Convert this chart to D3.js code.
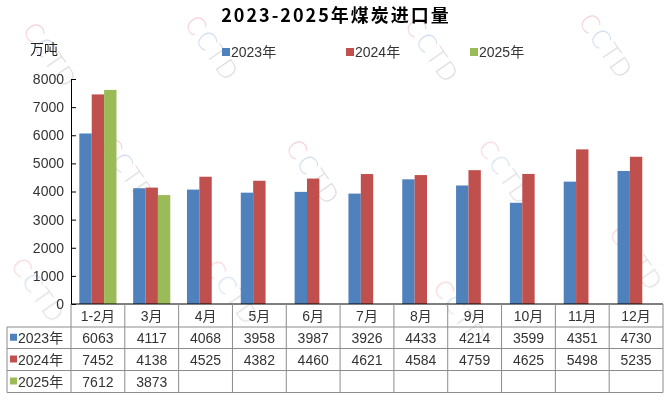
<!DOCTYPE html>
<html>
<head>
<meta charset="utf-8">
<script src="https://cdn.jsdelivr.net/npm/d3@7"></script>
<style>
  body { margin: 0; background: #fff; }
  svg { display: block; font-family: "Liberation Sans", "Noto Sans CJK SC", sans-serif; }
</style>
</head>
<body>
<div id="chart"></div>
<script>
// data
const categories = ["1-2月", "3月", "4月", "5月", "6月", "7月", "8月", "9月", "10月", "11月", "12月"];
const seriesNames = ["2023年", "2024年", "2025年"];
const values2023 = [6063, 4117, 4068, 3958, 3987, 3926, 4433, 4214, 3599, 4351, 4730];
const values2024 = [7452, 4138, 4525, 4382, 4460, 4621, 4584, 4759, 4625, 5498, 5235];
const values2025 = [7612, 3873];
const yTicks = [0, 1000, 2000, 3000, 4000, 5000, 6000, 7000, 8000];
const colors = ["#4F81BD", "#C0504D", "#9BBB59"];

const seriesValues = [values2023, values2024, values2025];

const width = 672, height = 399;
const plotLeft = 71, plotRight = 663, plotTop = 79, plotBottom = 304;
const rowH = [23, 21.5, 22, 22];

const svg = d3.select("#chart").append("svg")
  .attr("width", width)
  .attr("height", height);

// watermark, faint CCTD repeated
const wmSpots = [[50, 55], [212, 48], [432, 50], [606, 46], [128, 170], [313, 172], [505, 172], [38, 290], [232, 292], [460, 312], [636, 258]];
const wmColors = ["#f2b3b9", "#b5c9e6", "#c8c8c8", "#c8c8c8"];
const wm = svg.append("g").attr("opacity", 0.6);
wmSpots.forEach(p => {
  const t = wm.append("text")
    .attr("transform", "translate(" + p[0] + "," + p[1] + ") rotate(55)")
    .attr("text-anchor", "middle")
    .attr("dominant-baseline", "central")
    .style("font-family", "DejaVu Sans")
    .style("font-weight", "200")
    .style("font-size", "25px")
    .style("letter-spacing", "1px");
  "CCTD".split("").forEach((ch, i) => {
    t.append("tspan").attr("fill", wmColors[i]).text(ch);
  });
});

// title
svg.append("text")
  .attr("x", 336)
  .attr("y", 22)
  .attr("text-anchor", "middle")
  .style("font-size", "18px")
  .style("font-weight", "bold")
  .style("letter-spacing", "2px")
  .style("font-family", "\"Noto Sans CJK SC\", sans-serif")
  .text("2023-2025年煤炭进口量");

// unit
svg.append("text")
  .attr("x", 30)
  .attr("y", 54)
  .style("font-size", "14px")
  .style("font-family", "\"Noto Sans CJK SC\", sans-serif")
  .attr("fill", "#222")
  .text("万吨");

// legend
const legend = svg.append("g");
seriesNames.forEach((name, i) => {
  const lx = 222 + i * 124;
  legend.append("rect")
    .attr("x", lx).attr("y", 48)
    .attr("width", 8).attr("height", 8)
    .attr("fill", colors[i]);
  legend.append("text")
    .attr("x", lx + 9).attr("y", 57)
    .style("font-size", "14px")
    .attr("fill", "#333")
    .text(name);
});

// scales
const x = d3.scaleBand().domain(categories).range([plotLeft, plotRight]).padding(0);
const bw = x.bandwidth();
const x1 = d3.scaleBand().domain(seriesNames).range([bw * 0.155, bw * 0.845]).padding(0);
const y = d3.scaleLinear().domain([0, 8000]).range([plotBottom, plotTop]);

// bars
seriesNames.forEach((name, si) => {
  svg.append("g")
    .selectAll("rect")
    .data(seriesValues[si])
    .enter()
    .append("rect")
    .attr("x", (d, i) => x(categories[i]) + x1(name))
    .attr("y", d => y(d))
    .attr("width", x1.bandwidth())
    .attr("height", d => plotBottom - y(d))
    .attr("fill", colors[si]);
});

// y axis
const yAxis = svg.append("g")
  .attr("transform", "translate(" + plotLeft + ",0)")
  .call(d3.axisLeft(y).tickValues(yTicks).tickFormat(d3.format("d"))
    .tickSize(-5).tickSizeOuter(0).tickPadding(7));
yAxis.select(".domain").attr("stroke", "#000");
yAxis.selectAll(".tick line").attr("stroke", "#000");
yAxis.selectAll(".tick text")
  .style("font-size", "14px")
  .style("font-family", "\"Liberation Sans\", sans-serif")
  .attr("fill", "#333");

// data table
const table = svg.append("g");
const rowY = [plotBottom];
rowH.forEach(h => rowY.push(rowY[rowY.length - 1] + h));
const tableLeft = 7;
const grid = "#8c8c8c";

// horizontal lines
rowY.forEach((ry, i) => {
  table.append("line")
    .attr("x1", i === 0 ? plotLeft : tableLeft).attr("x2", plotRight)
    .attr("y1", ry).attr("y2", ry)
    .attr("stroke", i === 0 ? "#000" : grid);
});
// vertical lines
const colEdges = categories.map(c => x(c)).concat([plotRight]);
colEdges.forEach(cx => {
  table.append("line")
    .attr("x1", cx).attr("x2", cx)
    .attr("y1", plotBottom).attr("y2", rowY[4])
    .attr("stroke", grid);
});
table.append("line")
  .attr("x1", tableLeft).attr("x2", tableLeft)
  .attr("y1", rowY[1]).attr("y2", rowY[4])
  .attr("stroke", grid);

// header
table.selectAll(".cat")
  .data(categories)
  .enter()
  .append("text")
  .attr("x", d => x(d) + bw / 2)
  .attr("y", (rowY[0] + rowY[1]) / 2 + 5)
  .attr("text-anchor", "middle")
  .style("font-size", "14px")
  .attr("fill", "#333")
  .text(d => d);

// rows
seriesNames.forEach((name, si) => {
  const cy = (rowY[si + 1] + rowY[si + 2]) / 2;
  table.append("rect")
    .attr("x", 10).attr("y", cy - 4)
    .attr("width", 7).attr("height", 7)
    .attr("fill", colors[si]);
  table.append("text")
    .attr("x", 18).attr("y", cy + 5)
    .style("font-size", "14px")
    .attr("fill", "#333")
    .text(name);
  table.append("g")
    .selectAll("text")
    .data(seriesValues[si])
    .enter()
    .append("text")
    .attr("x", (d, i) => x(categories[i]) + bw / 2)
    .attr("y", cy + 5)
    .attr("text-anchor", "middle")
    .style("font-size", "14px")
    .attr("fill", "#333")
    .text(d => d);
});
</script>
</body>
</html>
